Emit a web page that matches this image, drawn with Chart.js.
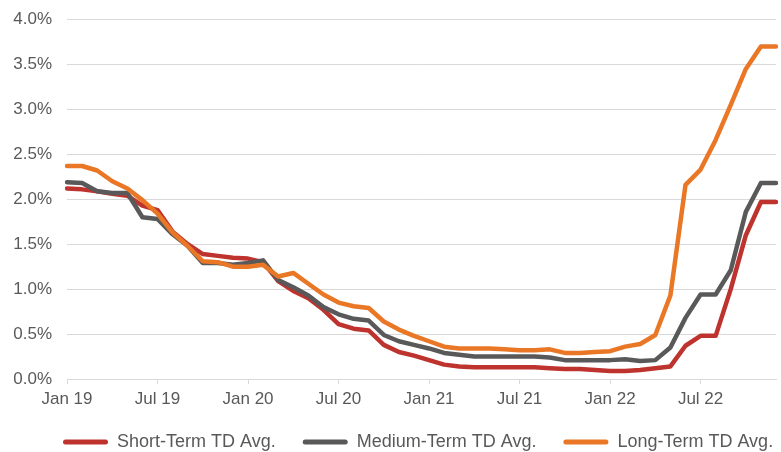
<!DOCTYPE html>
<html>
<head>
<meta charset="utf-8">
<script src="https://cdn.jsdelivr.net/npm/chart.js@4.4.0/dist/chart.umd.min.js"></script>
<style>
  html, body { margin: 0; padding: 0; background: #fff; }
</style>
</head>
<body>
<canvas id="tdChart" width="781" height="452"></canvas>
<script>
var months = [
    'Jan 19', 'Feb 19', 'Mar 19', 'Apr 19', 'May 19', 'Jun 19', 'Jul 19', 'Aug 19', 'Sep 19', 'Oct 19', 'Nov 19', 'Dec 19',
    'Jan 20', 'Feb 20', 'Mar 20', 'Apr 20', 'May 20', 'Jun 20', 'Jul 20', 'Aug 20', 'Sep 20', 'Oct 20', 'Nov 20', 'Dec 20',
    'Jan 21', 'Feb 21', 'Mar 21', 'Apr 21', 'May 21', 'Jun 21', 'Jul 21', 'Aug 21', 'Sep 21', 'Oct 21', 'Nov 21', 'Dec 21',
    'Jan 22', 'Feb 22', 'Mar 22', 'Apr 22', 'May 22', 'Jun 22', 'Jul 22', 'Aug 22', 'Sep 22', 'Oct 22', 'Nov 22', 'Dec 22'
];

// average term deposit rates, in percent
var shortTerm = [
    2.12, 2.11, 2.09, 2.06, 2.04, 1.93, 1.88, 1.64, 1.50, 1.39, 1.37, 1.35,
    1.34, 1.30, 1.09, 0.98, 0.90, 0.77, 0.61, 0.56, 0.54, 0.38, 0.30, 0.26,
    0.21, 0.16, 0.14, 0.13, 0.13, 0.13, 0.13, 0.13, 0.12, 0.11, 0.11, 0.10,
    0.09, 0.09, 0.10, 0.12, 0.14, 0.37, 0.48, 0.48, 1.00, 1.60, 1.97, 1.97
];
var mediumTerm = [
    2.19, 2.18, 2.09, 2.07, 2.07, 1.80, 1.78, 1.61, 1.48, 1.29, 1.29, 1.27,
    1.29, 1.32, 1.10, 1.02, 0.93, 0.80, 0.72, 0.67, 0.65, 0.49, 0.42, 0.38,
    0.34, 0.29, 0.27, 0.25, 0.25, 0.25, 0.25, 0.25, 0.24, 0.21, 0.21, 0.21,
    0.21, 0.22, 0.20, 0.21, 0.35, 0.68, 0.94, 0.94, 1.21, 1.86, 2.18, 2.18
];
var longTerm = [
    2.37, 2.37, 2.32, 2.20, 2.12, 1.99, 1.84, 1.63, 1.48, 1.31, 1.30, 1.25,
    1.25, 1.27, 1.14, 1.18, 1.06, 0.94, 0.85, 0.81, 0.79, 0.64, 0.55, 0.48,
    0.42, 0.36, 0.34, 0.34, 0.34, 0.33, 0.32, 0.32, 0.33, 0.29, 0.29, 0.30,
    0.31, 0.36, 0.39, 0.49, 0.93, 2.16, 2.33, 2.66, 3.05, 3.45, 3.70, 3.70
];
var seriesNames = ['Short-Term TD Avg.', 'Medium-Term TD Avg.', 'Long-Term TD Avg.'];
var seriesColors = ['#be332e', '#595959', '#e97726'];

Chart.defaults.font.family = "'Liberation Sans', Arial, sans-serif";
Chart.defaults.font.size = 17;
Chart.defaults.color = '#595959';

// one-row legend in a short strip, starting a bit in from the left edge
var legendTweaks = {
    id: 'legendTweaks',
    beforeInit: function (chart) {
        var fit = chart.legend.fit;
        chart.legend.fit = function () {
            var w = this.maxWidth;
            this.maxWidth = 2000;
            fit.call(this);
            this.maxWidth = w;
            this.width = w;
            this.height = 46;
        };
    },
    afterLayout: function (chart) {
        chart.legend.left = 36;
        chart.legend.right = 2000;
    }
};

function lineDataset(idx, values) {
    return {
        label: seriesNames[idx],
        data: values,
        borderColor: seriesColors[idx],
        backgroundColor: seriesColors[idx],
        borderWidth: 4.5,
        borderJoinStyle: 'round',
        borderCapStyle: 'round',
        pointRadius: 0,
        tension: 0,
        order: 2 - idx
    };
}

new Chart(document.getElementById('tdChart'), {
    type: 'line',
    data: {
        labels: months,
        datasets: [
            lineDataset(0, shortTerm),
            lineDataset(1, mediumTerm),
            lineDataset(2, longTerm)
        ]
    },
    options: {
        responsive: false,
        animation: false,
        layout: { padding: { top: 19.5, left: 0, right: 0, bottom: 0 } },
        plugins: {
            tooltip: { enabled: false },
            legend: {
                position: 'bottom',
                align: 'start',
                labels: {
                    font: { size: 18 },
                    boxWidth: 45,
                    boxHeight: 5,
                    padding: 27,
                    useBorderRadius: true,
                    borderRadius: 2.5,
                    sort: function (a, b) { return a.datasetIndex - b.datasetIndex; },
                    generateLabels: function (chart) {
                        var items = Chart.defaults.plugins.legend.labels.generateLabels(chart);
                        items.forEach(function (item) {
                            item.fillStyle = item.strokeStyle;
                            item.lineWidth = 0;
                        });
                        return items;
                    }
                }
            }
        },
        scales: {
            x: {
                afterFit: function (scale) { scale.height = 27; },
                grid: {
                    drawOnChartArea: false,
                    drawTicks: true,
                    tickLength: 5,
                    color: function (ctx) { return ctx.index % 6 === 0 ? '#d9d9d9' : 'rgba(0,0,0,0)'; }
                },
                border: { display: true, color: '#d9d9d9', width: 1 },
                ticks: {
                    autoSkip: false,
                    maxRotation: 0,
                    minRotation: 0,
                    padding: 5,
                    callback: function (value, index) {
                        return index % 6 === 0 ? months[index] : '';
                    }
                }
            },
            y: {
                min: 0,
                max: 4,
                afterFit: function (scale) { scale.width = 67; },
                grid: {
                    color: '#d9d9d9',
                    lineWidth: 1,
                    drawTicks: true,
                    tickLength: 6,
                    tickColor: 'rgba(0,0,0,0)'
                },
                border: { display: false },
                ticks: {
                    stepSize: 0.5,
                    padding: 9,
                    callback: function (value) { return value.toFixed(1) + '%'; }
                }
            }
        }
    },
    plugins: [legendTweaks]
});
</script>
</body>
</html>
